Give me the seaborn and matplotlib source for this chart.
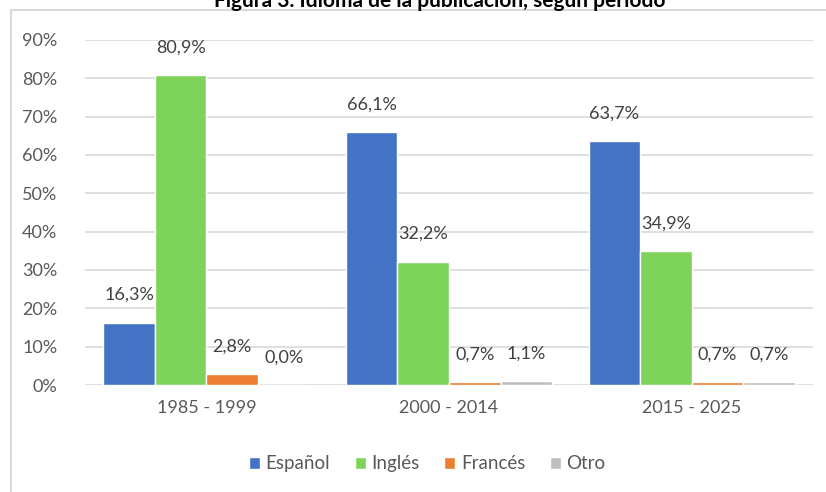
import matplotlib
matplotlib.use('Agg')
import matplotlib.pyplot as plt
import seaborn as sns
import pandas as pd
from matplotlib.patches import Rectangle

# ── Data ────────────────────────────────────────────────────────────────────
periodos = ['1985 - 1999', '2000 - 2014', '2015 - 2025']
idiomas = ['Español', 'Inglés', 'Francés', 'Otro']
espanol = [16.3, 66.1, 63.7]
ingles = [80.9, 32.2, 34.9]
frances = [2.8, 0.7, 0.7]
otro = [0.0, 1.1, 0.7]
colores = ['#4472C4', '#7ED35B', '#ED7D31', '#BFBFBF']

df = pd.DataFrame({'Periodo': periodos, 'Español': espanol, 'Inglés': ingles,
                   'Francés': frances, 'Otro': otro})
df = df.melt(id_vars='Periodo', var_name='Idioma', value_name='Valor')
df['Valor'] = df['Valor'] / 100

# ── Plot ────────────────────────────────────────────────────────────────────
sns.set_style('white')
plt.rcParams['font.family'] = ['Lato', 'DejaVu Sans']

fig = plt.figure(figsize=(8.26, 4.92), dpi=100)
ax = fig.add_axes([85/826, 1 - 385/492, 728/826, 345/492])

sns.barplot(data=df, x='Periodo', y='Valor', hue='Idioma', hue_order=idiomas,
            palette=colores, width=0.85, saturation=1, ax=ax)

ax.set_ylim(0, 0.9)
ax.set_yticks([i / 10 for i in range(10)])
ax.set_yticklabels([f'{i * 10}%' for i in range(10)])
ax.yaxis.grid(True, color='#D9D9D9', linewidth=1.2)
ax.set_axisbelow(True)
for s in ax.spines.values():
    s.set_visible(False)
ax.tick_params(axis='both', length=0, labelsize=13, labelcolor='#595959')
ax.tick_params(axis='y', pad=20)
ax.tick_params(axis='x', pad=11)
ax.set_xlabel('')
ax.set_ylabel('')

for cont in ax.containers:
    labs = [f'{b.get_height() * 100:.1f}%'.replace('.', ',') for b in cont]
    ax.bar_label(cont, labels=labs, padding=14, fontsize=13, color='#404040')

leg = ax.legend(loc='upper center', bbox_to_anchor=(0.47, -0.155), ncol=4,
                frameon=False, fontsize=13.5, handlelength=0.6, handleheight=0.6,
                handletextpad=0.3, columnspacing=1.3)
for t in leg.get_texts():
    t.set_color('#595959')

# chart area border and title (cut at the top edge, as in the source image)
fig.patches.append(Rectangle((10.5/826, -0.01), 1, (492 - 10)/492 + 0.01,
                             transform=fig.transFigure, fill=False,
                             edgecolor='#D9D9D9', linewidth=1.5))
fig.text(440/826, 1 - 7/492, 'Figura 3. Idioma de la publicación, según periodo',
         ha='center', va='baseline', fontsize=15, fontweight='bold', color='black')

fig.savefig('out.png', dpi=100)
